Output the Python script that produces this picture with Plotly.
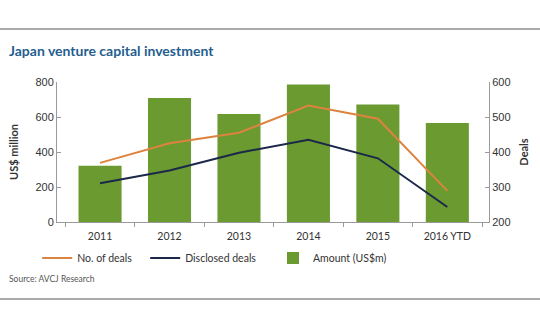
import plotly.graph_objects as go

years = ["2011", "2012", "2013", "2014", "2015", "2016 YTD"]
amount = [322, 708, 617, 786, 672, 566]
no_deals = [369, 425, 455, 533, 495, 289]
disclosed = [311, 347, 398, 435, 382, 243]

GREEN = "#6b9a31"
ORANGE = "#dc843f"
NAVY = "#1b2849"
AX = "#9a9a9a"
TXT = "#333333"

PW = 436.0
PH = 140.0

def px(xp):
    return (xp - 57) / PW

def py(yp):
    return (222 - yp) / PH

fig = go.Figure()
fig.add_trace(go.Bar(x=years, y=amount, name="Amount (US$m)", marker_color=GREEN,
                     marker_line_width=0, width=0.62, legend="legend3"))
fig.add_trace(go.Scatter(x=years, y=no_deals, name="No. of deals", mode="lines",
                         line=dict(color=ORANGE, width=2), yaxis="y2", legend="legend"))
fig.add_trace(go.Scatter(x=years, y=disclosed, name="Disclosed deals", mode="lines",
                         line=dict(color=NAVY, width=2), yaxis="y2", legend="legend2"))

leg = dict(orientation="h", yanchor="middle", y=py(258),
           font=dict(family="Lato", size=10.5, color=TXT), bgcolor="rgba(0,0,0,0)")

fig.update_layout(
    width=540, height=334,
    margin=dict(l=57, r=47, t=82, b=112),
    paper_bgcolor="white", plot_bgcolor="white",
    legend=dict(leg, x=px(37), xanchor="left"),
    legend2=dict(leg, x=px(146), xanchor="left"),
    legend3=dict(leg, x=px(275), xanchor="left"),
    showlegend=True,
    xaxis=dict(type="category", range=[-0.62, 5.6], showline=True, linecolor=AX, linewidth=1,
               ticks="outside", tickson="boundaries", ticklen=4, tickcolor=AX,
               ticklabelstandoff=4,
               tickfont=dict(family="Lato", size=10.5, color=TXT), showgrid=False, zeroline=False),
    yaxis=dict(range=[0, 800], tickvals=[0, 200, 400, 600, 800], showline=True, linecolor=AX,
               ticks="inside", ticklen=4, tickcolor=AX, showgrid=False, zeroline=False,
               tickfont=dict(family="Liberation Sans", size=11, color=TXT),
               title=dict(text="<b>US$ million</b>", font=dict(family="Lato", size=11, color=TXT),
                          standoff=14)),
    yaxis2=dict(range=[200, 600], tickvals=[200, 300, 400, 500, 600], overlaying="y", side="right",
                showline=True, linecolor=AX, ticks="inside", ticklen=4, tickcolor=AX,
                showgrid=False, zeroline=False,
                tickfont=dict(family="Liberation Sans", size=11, color=TXT),
                title=dict(text="<b>Deals</b>", font=dict(family="Lato", size=11, color=TXT),
                           standoff=10)),
    shapes=[
        dict(type="line", xref="paper", yref="paper", x0=px(-5), x1=px(545),
             y0=py(29), y1=py(29), line=dict(color="#aaaaaa", width=2)),
        dict(type="line", xref="paper", yref="paper", x0=px(-5), x1=px(545),
             y0=py(299), y1=py(299), line=dict(color="#aaaaaa", width=2)),
    ],
    annotations=[
        dict(text="<b>Japan venture capital investment</b>", xref="paper", yref="paper",
             x=px(7), y=py(51), xanchor="left", yanchor="middle", showarrow=False,
             font=dict(family="Lato", size=14, color="#245e8f")),
        dict(text="Source: AVCJ Research", xref="paper", yref="paper",
             x=px(7), y=py(279), xanchor="left", yanchor="middle", showarrow=False,
             font=dict(family="Lato", size=8.5, color="#555555")),
    ],
)

fig.write_html("out.html")
